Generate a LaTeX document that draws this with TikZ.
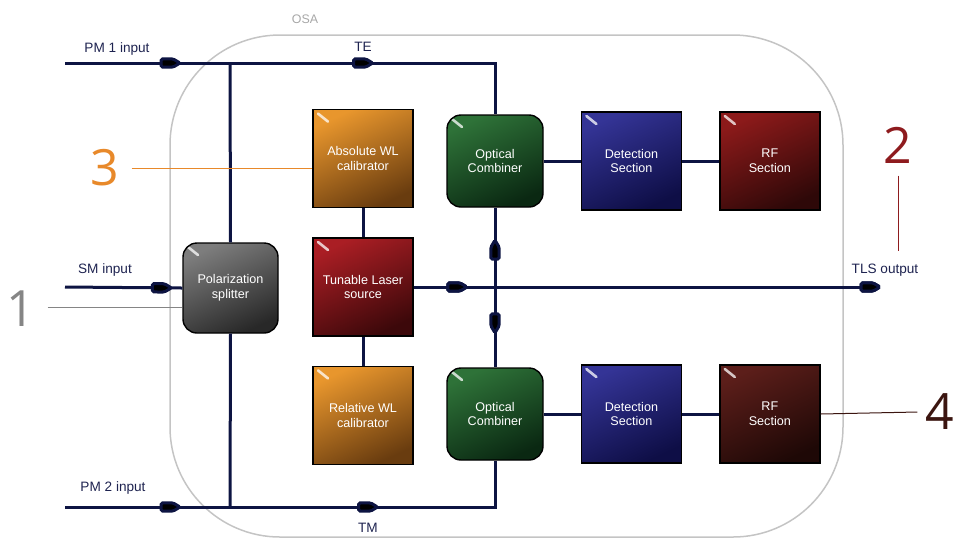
\documentclass[tikz,border=0pt]{standalone}
\usepackage{fontspec}
\setmainfont{Liberation Sans}
\newfontfamily\numfont{Open Sans}
\usepackage{xcolor}
\usetikzlibrary{positioning,calc,decorations.markings}

\definecolor{wire}{HTML}{0D1442}
\definecolor{labelblue}{HTML}{1E2350}
\definecolor{osagray}{HTML}{C4C4C4}
\definecolor{callone}{HTML}{858585}
\definecolor{calltwo}{HTML}{8E1B1E}
\definecolor{callthree}{HTML}{E8892A}
\definecolor{callfour}{HTML}{3B1510}

\tikzset{
  gloss/.style={path picture={\draw[white, line width=1.3pt, line cap=round, opacity=.75]
      ([shift={(2.5pt,-2pt)}]path picture bounding box.north west) -- ++(5pt,-4pt);}},
  block/.style={draw=black, line width=0.7pt, minimum width=50pt, minimum height=49pt,
      inner sep=1pt, align=center, text=white, gloss, font=\fontsize{6.3}{7.3}\selectfont},
  roundblock/.style={block, rounded corners=7pt, minimum width=48pt, minimum height=46pt},
  midflow/.style={postaction={decorate}, decoration={markings,
      mark=at position #1 with {\fill[wire, rounded corners=0.8pt] (-19,-4.2) -- (-7,-4.2) -- (0,0) -- (-7,4.2) -- (-19,4.2) -- cycle;}}},
  tag/.style={text=labelblue},
  callout/.style={font=\numfont\fontsize{25}{25}\selectfont, inner sep=0pt}
}

\begin{document}
\begin{tikzpicture}[x=0.5pt, y=-0.5pt, font=\fontsize{6.8}{7.6}\selectfont,
    node distance=14.5pt and 18.5pt, wire/.style={draw=wire, line width=1.5pt}]
\useasboundingbox (0,0) rectangle (954,538);

% OSA housing
\node[draw=osagray, line width=0.75pt, rounded corners=55pt, minimum width=336.5pt,
      minimum height=251pt, inner sep=0pt] (osa) at (506.5,286) {};
\node[text=osagray!85!black, font=\fontsize{6.2}{7}\selectfont] (osalabel) at (305,19) {OSA};

% blocks
\node[roundblock, top color={rgb,255:red,125;green,125;blue,125}, bottom color={rgb,255:red,40;green,40;blue,40}, shading angle=25, minimum width=47.5pt, minimum height=45pt] (split) at (230.5,288) {Polarization\\splitter};
\node[block, top color={rgb,255:red,170;green,30;blue,36}, bottom color={rgb,255:red,60;green,8;blue,10}, shading angle=25] (laser) at (363,287) {Tunable Laser\\source};
\node[block, top color={rgb,255:red,232;green,150;blue,45}, bottom color={rgb,255:red,105;green,60;blue,15}, shading angle=25, above=14.5pt of laser] (abscal) {Absolute WL\\calibrator};
\node[block, top color={rgb,255:red,232;green,150;blue,45}, bottom color={rgb,255:red,105;green,60;blue,15}, shading angle=25, below=14.5pt of laser] (relcal) {Relative WL\\calibrator};

\node[roundblock, top color={rgb,255:red,46;green,114;blue,56}, bottom color={rgb,255:red,10;green,40;blue,18}, shading angle=25] (combA) at (495,161) {Optical\\Combiner};
\node[roundblock, top color={rgb,255:red,46;green,114;blue,56}, bottom color={rgb,255:red,10;green,40;blue,18}, shading angle=25] (combB) at (495,414) {Optical\\Combiner};
\node[block, top color={rgb,255:red,52;green,52;blue,150}, bottom color={rgb,255:red,14;green,14;blue,70}, shading angle=25, right=of combA] (detA) {Detection\\Section};
\node[block, top color={rgb,255:red,52;green,52;blue,150}, bottom color={rgb,255:red,14;green,14;blue,70}, shading angle=25, right=of combB] (detB) {Detection\\Section};
\node[block, top color={rgb,255:red,140;green,26;blue,26}, bottom color={rgb,255:red,46;green,8;blue,8}, shading angle=25, right=of detA] (rfA) {RF\\Section};
\node[block, top color={rgb,255:red,92;green,30;blue,26}, bottom color={rgb,255:red,30;green,8;blue,6}, shading angle=25, right=of detB] (rfB) {RF\\Section};

% free ends and junctions
\coordinate (pm1in) at (65,63);
\coordinate (pm2in) at (65,507);
\coordinate (smin) at (65,287);
\coordinate (te) at (230,63);
\coordinate (tm) at (230,507);
\coordinate (tlsout) at (880,287);
\coordinate (jn) at (combA.south |- laser.east);

% port labels
\node[tag] (pm1label) at (117,49) {PM 1 input};
\node[tag] (telabel) at (363,47) {TE};
\node[tag] (smlabel) at (105,270) {SM input};
\node[tag] (pm2label) at (113,488) {PM 2 input};
\node[tag] (tmlabel) at (368,528) {TM};
\node[tag] (tlslabel) at (885,270) {TLS output};

% optical paths
\path[wire, midflow=0.697] (pm1in) -- (te);
\path[wire, midflow=0.451] (te) -| (combA.north);
\path[wire, midflow=0.697] (pm2in) -- (tm);
\path[wire, midflow=0.474] (tm) -| (combB.south);
\path[wire, midflow=0.907] (smin) -- (split.west);
\path[wire] (te) -- (split.north);
\path[wire] (split.south) -- (tm);
\path[wire] (abscal) -- (laser);
\path[wire] (laser) -- (relcal);
\path[wire, midflow=0.114, midflow=1] (laser.east) -- (tlsout);
\path[wire, midflow=0.59] (jn) -- (combA.south);
\path[wire, midflow=0.57] (jn) -- (combB.north);
\path[wire] (combA) -- (detA) (detA) -- (rfA);
\path[wire] (combB) -- (detB) (detB) -- (rfB);

% callouts
\node[callout, text=callone] (one) at (21,309) {1};
\node[callout, text=calltwo] (two) at (898,145) {2};
\node[callout, text=callthree] (three) at (105,168) {3};
\node[callout, text=callfour] (four) at (940,412) {4};
\draw[callone, line width=0.5pt] ([xshift=6pt]one.east |- 0,307) -- (split.west |- 0,307);
\draw[calltwo, line width=0.5pt] ([yshift=-6pt]two.south) -- ([yshift=3pt]tlslabel.north -| two.south);
\draw[callthree, line width=0.5pt] ([xshift=6pt]three.east) -- (three.east -| abscal.west);
\draw[callfour, line width=0.5pt] (rfB.east) -- ([xshift=-4pt]four.west);
\end{tikzpicture}
\end{document}
